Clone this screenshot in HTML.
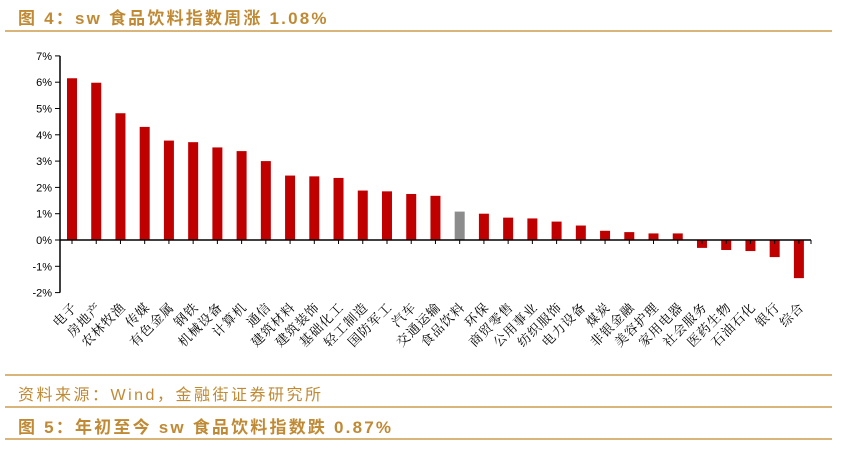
<!DOCTYPE html>
<html><head><meta charset="utf-8"><style>
body{margin:0;width:842px;height:452px;background:#fff;overflow:hidden;font-family:"Liberation Sans","Noto Sans CJK SC",sans-serif;}
.t{position:absolute;left:18px;color:#c08a35;font-weight:bold;font-size:17px;letter-spacing:2.2px;}
.l{position:absolute;left:5px;width:827px;height:2px;background:#d9b57a;}
</style></head><body>
<div class="t" style="top:4px">图 4：sw 食品饮料指数周涨 1.08%</div>
<div class="l" style="top:30px"></div>
<svg id="c" width="842" height="452" style="position:absolute;left:0;top:0"></svg>
<div class="l" style="top:374px"></div>
<div class="t" style="top:381px;font-size:16px;font-weight:normal;letter-spacing:2.5px">资料来源：Wind，金融街证券研究所</div>
<div class="l" style="top:406px"></div>
<div class="t" style="top:413px">图 5：年初至今 sw 食品饮料指数跌 0.87%</div>
<div class="l" style="top:438px"></div>
<script>
const categories=["电子","房地产","农林牧渔","传媒","有色金属","钢铁","机械设备","计算机","通信","建筑材料","建筑装饰","基础化工","轻工制造","国防军工","汽车","交通运输","食品饮料","环保","商贸零售","公用事业","纺织服饰","电力设备","煤炭","非银金融","美容护理","家用电器","社会服务","医药生物","石油石化","银行","综合"];
const values=[6.15,5.98,4.82,4.3,3.78,3.72,3.52,3.38,3.0,2.45,2.42,2.36,1.88,1.85,1.75,1.68,1.08,1.0,0.85,0.82,0.7,0.55,0.35,0.3,0.25,0.25,-0.3,-0.38,-0.42,-0.65,-1.45];
const yTicks=[7,6,5,4,3,2,1,0,-1,-2];
const highlight="食品饮料";
const svg=document.getElementById('c');const NS="http://www.w3.org/2000/svg";
const x0=60,x1=811,y=v=>240-v*26.3,step=24.23,xc=i=>72+i*step;
function mk(t,a,p){const e=document.createElementNS(NS,t);for(const k in a)e.setAttribute(k,a[k]);(p||svg).appendChild(e);return e;}
const ax=mk('line',{x1:x0,x2:x0,y1:y(7),y2:y(-2),stroke:'#000','stroke-width':1.5});

yTicks.forEach(v=>{mk('line',{x1:x0-5,x2:x0,y1:y(v),y2:y(v),stroke:'#000'});
const t=mk('text',{x:x0-8,y:y(v)+4,'text-anchor':'end','font-size':11,'font-family':'Liberation Sans,sans-serif'});t.textContent=v+'%';
});
values.forEach((v,i)=>{const r=mk('rect',{x:xc(i)-5,width:10,y:Math.min(y(v),y(0)),height:Math.abs(y(v)-y(0)),fill:categories[i]===highlight?'#8c8c8c':'#c00000'});

mk('line',{x1:xc(i),x2:xc(i),y1:y(0),y2:y(0)+4,stroke:'#000'});
const t=mk('text',{x:0,y:0,'text-anchor':'end','font-size':13,'letter-spacing':1,'font-family':'Noto Serif CJK SC,serif',transform:`translate(${xc(i)+6},${y(0)+68}) rotate(-45)`});
t.textContent=categories[i];});
const xa=mk('line',{x1:x0,x2:x1,y1:y(0),y2:y(0),stroke:'#000','stroke-width':1.5});

mk('line',{x1:x1,x2:x1,y1:y(0),y2:y(0)+4,stroke:'#000'});
</script>
</body></html>
